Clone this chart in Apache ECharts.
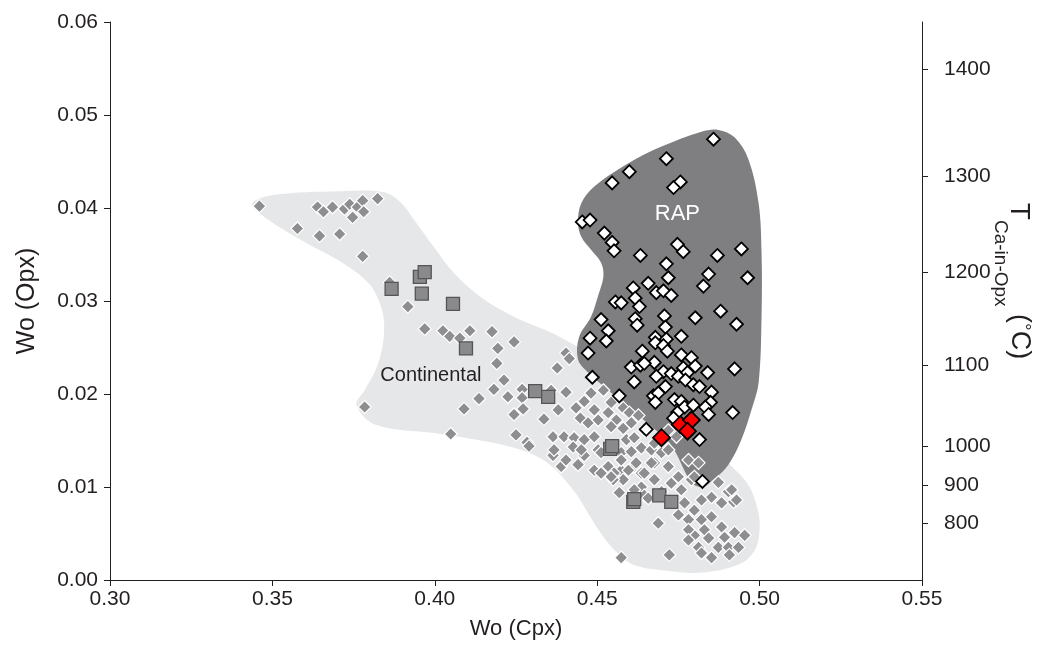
<!DOCTYPE html>
<html>
<head>
<meta charset="utf-8">
<script src="https://cdn.jsdelivr.net/npm/echarts@6/dist/echarts.min.js"></script>
<style>
  html, body { margin: 0; padding: 0; background: #ffffff; }
  #chart { width: 1037px; height: 666px; }
</style>
</head>
<body>
<div id="chart"></div>
<script>
const FONT = '"Liberation Sans", Arial, Helvetica, sans-serif';

// Ca-in-Opx thermometer: temperature ticks and the Wo(Opx) value each one sits at
const tempTicks  = [800, 900, 1000, 1100, 1200, 1300, 1400];
const tempTickWo = [0.0061, 0.0102, 0.0144, 0.0231, 0.0331, 0.0434, 0.0549];

// Field outlines, [Wo(Cpx), Wo(Opx)]
const continentalOutline = [
  [0.3438,0.0405],[0.3503,0.0414],[0.3710,0.0418],[0.3843,0.0417],[0.3895,0.0406],
  [0.3941,0.0385],[0.3997,0.0358],[0.4059,0.0330],[0.4142,0.0304],[0.4250,0.0282],
  [0.4358,0.0266],[0.4481,0.0242],[0.4667,0.0199],[0.4821,0.0161],[0.4904,0.0126],
  [0.4966,0.0102],[0.4994,0.0076],[0.5000,0.0054],[0.4985,0.0032],[0.4938,0.0017],
  [0.4821,0.0008],[0.4713,0.0010],[0.4614,0.0016],[0.4559,0.0030],[0.4512,0.0050],
  [0.4475,0.0070],[0.4426,0.0097],[0.4343,0.0127],[0.4235,0.0143],[0.4019,0.0157],
  [0.3818,0.0167],[0.3759,0.0188],[0.3784,0.0204],[0.3818,0.0226],[0.3840,0.0253],
  [0.3843,0.0280],[0.3827,0.0301],[0.3796,0.0319],[0.3725,0.0339],[0.3586,0.0366],
  [0.3469,0.0392]
];
const rapOutline = [
  [0.4441,0.0385],[0.4451,0.0405],[0.4491,0.0423],[0.4596,0.0448],[0.4698,0.0466],
  [0.4821,0.0482],[0.4873,0.0484],[0.4923,0.0476],[0.4966,0.0452],[0.4997,0.0405],
  [0.5006,0.0352],[0.5006,0.0283],[0.4997,0.0212],[0.4975,0.0183],[0.4944,0.0151],
  [0.4904,0.0124],[0.4858,0.0108],[0.4821,0.0100],[0.4790,0.0105],[0.4728,0.0145],
  [0.4667,0.0165],[0.4605,0.0183],[0.4534,0.0204],[0.4472,0.0223],[0.4441,0.0237],
  [0.4444,0.0261],[0.4481,0.0283],[0.4503,0.0306],[0.4519,0.0326],[0.4512,0.0341],
  [0.4481,0.0355],[0.4451,0.0369]
];

// Continental peridotites (grey diamonds)
const continentalPts = [
  [0.3460,0.0402],[0.3577,0.0378],[0.3639,0.0401],[0.3657,0.0396],[0.3685,0.0401],
  [0.3645,0.0370],[0.3707,0.0372],[0.3722,0.0399],[0.3738,0.0404],[0.3747,0.0390],
  [0.3762,0.0401],[0.3778,0.0408],[0.3781,0.0396],[0.3824,0.0410],[0.3778,0.0348],
  [0.3861,0.0320],[0.3917,0.0294],[0.3969,0.0270],[0.4025,0.0268],[0.4046,0.0262],
  [0.4077,0.0260],[0.4108,0.0268],[0.4176,0.0267],[0.4244,0.0256],[0.4194,0.0249],
  [0.4191,0.0233],[0.4377,0.0228],[0.4404,0.0244],[0.4414,0.0238],[0.4213,0.0215],
  [0.4182,0.0205],[0.4269,0.0205],[0.4225,0.0197],[0.4269,0.0196],[0.4136,0.0195],
  [0.4090,0.0184],[0.3784,0.0186],[0.4272,0.0184],[0.4244,0.0178],[0.4336,0.0173],
  [0.4380,0.0183],[0.4049,0.0157],[0.4250,0.0156],[0.4284,0.0148],[0.4290,0.0144],
  [0.4364,0.0154],[0.4364,0.0134],[0.4358,0.0204],[0.4404,0.0202],[0.4435,0.0185],
  [0.4460,0.0192],[0.4481,0.0201],[0.4519,0.0204],[0.4448,0.0174],[0.4472,0.0169],
  [0.4503,0.0172],[0.4534,0.0180],[0.4543,0.0191],[0.4580,0.0185],[0.4599,0.0180],
  [0.4559,0.0172],[0.4580,0.0163],[0.4605,0.0169],[0.4627,0.0177],[0.4398,0.0154],
  [0.4429,0.0153],[0.4460,0.0151],[0.4491,0.0154],[0.4367,0.0140],[0.4426,0.0143],
  [0.4460,0.0134],[0.4503,0.0140],[0.4590,0.0151],[0.4614,0.0153],[0.4574,0.0137],
  [0.4605,0.0138],[0.4636,0.0142],[0.4389,0.0122],[0.4441,0.0124],[0.4491,0.0118],
  [0.4534,0.0122],[0.4574,0.0118],[0.4614,0.0122],[0.4636,0.0115],[0.4676,0.0126],
  [0.4667,0.0140],[0.4698,0.0137],[0.4404,0.0129],[0.4451,0.0140],[0.4512,0.0137],
  [0.4552,0.0115],[0.4580,0.0108],[0.4549,0.0108],[0.4574,0.0129],[0.4620,0.0126],
  [0.4645,0.0115],[0.4676,0.0108],[0.4636,0.0100],[0.4568,0.0094],[0.4645,0.0091],
  [0.4667,0.0126],[0.4719,0.0122],[0.4750,0.0111],[0.4728,0.0104],[0.4781,0.0129],
  [0.4812,0.0126],[0.4790,0.0108],[0.4759,0.0097],[0.4698,0.0095],[0.4873,0.0105],
  [0.4904,0.0095],[0.4920,0.0084],[0.4883,0.0083],[0.4852,0.0089],[0.4821,0.0086],
  [0.4799,0.0075],[0.4769,0.0083],[0.4750,0.0070],[0.4781,0.0065],[0.4821,0.0065],
  [0.4852,0.0068],[0.4883,0.0057],[0.4923,0.0051],[0.4954,0.0048],[0.4892,0.0046],
  [0.4830,0.0054],[0.4799,0.0048],[0.4781,0.0054],[0.4843,0.0045],[0.4873,0.0035],
  [0.4904,0.0035],[0.4935,0.0035],[0.4812,0.0035],[0.4821,0.0029],[0.4852,0.0024],
  [0.4907,0.0027],[0.4781,0.0043],[0.4688,0.0061],[0.4574,0.0024],[0.4722,0.0027],
  [0.4657,0.0088],[0.4914,0.0097],[0.4929,0.0086],[0.4491,0.0183],[0.4543,0.0111],
  [0.4512,0.0115],[0.4645,0.0161],[0.4676,0.0147],[0.4719,0.0140],[0.4799,0.0111],
  [0.4543,0.0165],[0.4614,0.0097],[0.4596,0.0118],[0.4744,0.0154],[0.4719,0.0161]
];

// Continental xenolith suite (grey squares)
const squarePts = [
  [0.3867,0.0313],[0.3954,0.0326],[0.3969,0.0331],[0.3960,0.0308],[0.4056,0.0297],
  [0.4096,0.0249],[0.4309,0.0203],[0.4349,0.0197],[0.4540,0.0141],[0.4546,0.0144],
  [0.4611,0.0084],[0.4614,0.0087],[0.4691,0.0091],[0.4728,0.0084]
];

// RAP samples (white diamonds)
const rapPts = [
  [0.4858,0.0474],[0.4713,0.0453],[0.4599,0.0439],[0.4546,0.0427],[0.4756,0.0428],
  [0.4735,0.0422],[0.4454,0.0385],[0.4478,0.0387],[0.4522,0.0373],[0.4546,0.0363],
  [0.4552,0.0354],[0.4633,0.0349],[0.4747,0.0361],[0.4765,0.0353],[0.4870,0.0349],
  [0.4944,0.0356],[0.4713,0.0340],[0.4843,0.0329],[0.4963,0.0325],[0.4719,0.0325],
  [0.4657,0.0319],[0.4827,0.0316],[0.4611,0.0314],[0.4682,0.0309],[0.4704,0.0311],
  [0.4728,0.0306],[0.4617,0.0303],[0.4556,0.0299],[0.4574,0.0298],[0.4630,0.0294],
  [0.4880,0.0289],[0.4707,0.0284],[0.4802,0.0282],[0.4512,0.0280],[0.4617,0.0281],
  [0.4623,0.0274],[0.4929,0.0275],[0.4710,0.0272],[0.4534,0.0268],[0.4759,0.0262],
  [0.4478,0.0260],[0.4528,0.0257],[0.4679,0.0261],[0.4713,0.0259],[0.4679,0.0255],
  [0.4704,0.0252],[0.4716,0.0246],[0.4639,0.0246],[0.4472,0.0244],[0.4759,0.0242],
  [0.4790,0.0239],[0.4676,0.0234],[0.4605,0.0229],[0.4633,0.0231],[0.4802,0.0230],
  [0.4645,0.0233],[0.4923,0.0227],[0.4704,0.0224],[0.4765,0.0228],[0.4682,0.0219],
  [0.4728,0.0222],[0.4750,0.0219],[0.4778,0.0223],[0.4840,0.0223],[0.4485,0.0218],
  [0.4614,0.0213],[0.4772,0.0215],[0.4796,0.0210],[0.4815,0.0208],[0.4710,0.0208],
  [0.4852,0.0202],[0.4568,0.0198],[0.4673,0.0198],[0.4688,0.0201],[0.4738,0.0194],
  [0.4849,0.0191],[0.4679,0.0191],[0.4759,0.0192],[0.4769,0.0186],[0.4796,0.0188],
  [0.4833,0.0186],[0.4843,0.0178],[0.4747,0.0180],[0.4917,0.0180],[0.4735,0.0174],
  [0.4651,0.0162],[0.4815,0.0151],[0.4824,0.0106]
];

// Samples of this study (red diamonds)
const studyPts = [
  [0.4698,0.0153],[0.4756,0.0167],[0.4790,0.0172],[0.4778,0.0160]
];

// Field names and their anchor points
const fieldNames = ['Continental', 'RAP'];
const fieldNameAt = [[0.3988, 0.0220], [0.4747, 0.0394]];
const fieldNameColor = ['#231f20', '#ffffff'];
const fieldNameSize = [20, 22];

function regionSeries(outline, fill) {
  return {
    type: 'custom',
    silent: true,
    data: [outline[0]],
    renderItem: function (params, api) {
      return {
        type: 'polygon',
        shape: { points: outline.map(function (p) { return api.coord(p); }), smooth: 0.35 },
        style: { fill: fill }
      };
    }
  };
}

const chart = echarts.init(document.getElementById('chart'), null, { renderer: 'canvas' });

const INK = '#231f20';
const axisText = { color: INK, fontFamily: FONT, fontSize: 21 };
const axisLine = { show: true, onZero: false, lineStyle: { color: INK, width: 1 } };

chart.setOption({
  animation: false,
  backgroundColor: '#ffffff',
  grid: { left: 110, right: 115, top: 22, bottom: 86, containLabel: false, outerBoundsMode: 'none' },
  xAxis: {
    type: 'value', min: 0.30, max: 0.55, interval: 0.05,
    name: 'Wo (Cpx)', nameLocation: 'middle', nameGap: 38,
    nameTextStyle: { color: INK, fontFamily: FONT, fontSize: 22 },
    axisLine: axisLine,
    axisTick: { show: true, inside: false, length: 6, lineStyle: { color: INK } },
    axisLabel: Object.assign({ margin: 9, formatter: function (v) { return v.toFixed(2); } }, axisText),
    splitLine: { show: false }
  },
  yAxis: [
    {
      type: 'value', min: 0, max: 0.06, interval: 0.01, position: 'left',
      name: 'Wo (Opx)', nameLocation: 'middle', nameGap: 70,
      nameTextStyle: { color: INK, fontFamily: FONT, fontSize: 25 },
      axisLine: axisLine,
      axisTick: { show: true, inside: false, length: 6, lineStyle: { color: INK } },
      axisLabel: Object.assign({ margin: 12, formatter: function (v) { return v.toFixed(2); } }, axisText),
      splitLine: { show: false }
    },
    {
      type: 'value', min: 0, max: 0.06, position: 'right',
      // T with a lowered "Ca-in-Opx" subscript, then (°C)
      name: '{t|T}{sub|Ca-in-Opx}{n| (}{deg|°}{n|C)}',
      nameLocation: 'middle', nameRotate: -90, nameGap: 69, nameMoveOverlap: false,
      nameTextStyle: {
        color: INK, fontFamily: FONT, padding: [0, 40, 0, 0],
        rich: {
          t:   { fontSize: 28, fontFamily: FONT, color: INK, padding: [0, 0, 14, 0], verticalAlign: 'top' },
          sub: { fontSize: 19, fontFamily: FONT, color: INK, verticalAlign: 'bottom' },
          n:   { fontSize: 27, fontFamily: FONT, color: INK, verticalAlign: 'top' },
          deg: { fontSize: 19, fontFamily: FONT, color: INK, verticalAlign: 'top' }
        }
      },
      axisLine: axisLine,
      axisTick: { show: true, inside: false, length: 6, customValues: tempTickWo, lineStyle: { color: INK } },
      axisLabel: Object.assign({
        margin: 22, customValues: tempTickWo,
        formatter: function (v) {
          let best = 0;
          tempTickWo.forEach(function (w, i) { if (Math.abs(w - v) < Math.abs(tempTickWo[best] - v)) best = i; });
          return String(tempTicks[best]);
        }
      }, axisText),
      splitLine: { show: false }
    }
  ],
  series: [
    Object.assign(regionSeries(continentalOutline, '#e6e7e8'), { z: 1 }),
    Object.assign(regionSeries(rapOutline, '#7f7f81'), { z: 2 }),
    {
      type: 'custom', z: 3, silent: true,
      data: fieldNameAt,
      renderItem: function (params, api) {
        const p = api.coord([api.value(0), api.value(1)]);
        const i = params.dataIndex;
        return {
          type: 'text', x: p[0], y: p[1],
          style: {
            text: fieldNames[i], fill: fieldNameColor[i],
            fontFamily: FONT, fontSize: fieldNameSize[i],
            align: 'center', verticalAlign: 'middle'
          }
        };
      }
    },
    {
      type: 'scatter', z: 4, data: continentalPts, symbol: 'diamond', symbolSize: 13,
      itemStyle: { color: '#8e8e90', borderColor: '#ffffff', borderWidth: 1.2, opacity: 1 }
    },
    {
      type: 'scatter', z: 5, data: squarePts, symbol: 'rect', symbolSize: 13,
      itemStyle: { color: '#8a8a8c', borderColor: '#555557', borderWidth: 1.3, opacity: 1 }
    },
    {
      type: 'scatter', z: 6, data: rapPts, symbol: 'diamond', symbolSize: 13,
      itemStyle: { color: '#ffffff', borderColor: '#000000', borderWidth: 1.8, opacity: 1 }
    },
    {
      type: 'scatter', z: 7, data: studyPts, symbol: 'diamond', symbolSize: 17,
      itemStyle: { color: '#ff0000', borderColor: '#000000', borderWidth: 1.8, opacity: 1 }
    }
  ]
});
</script>
</body>
</html>
